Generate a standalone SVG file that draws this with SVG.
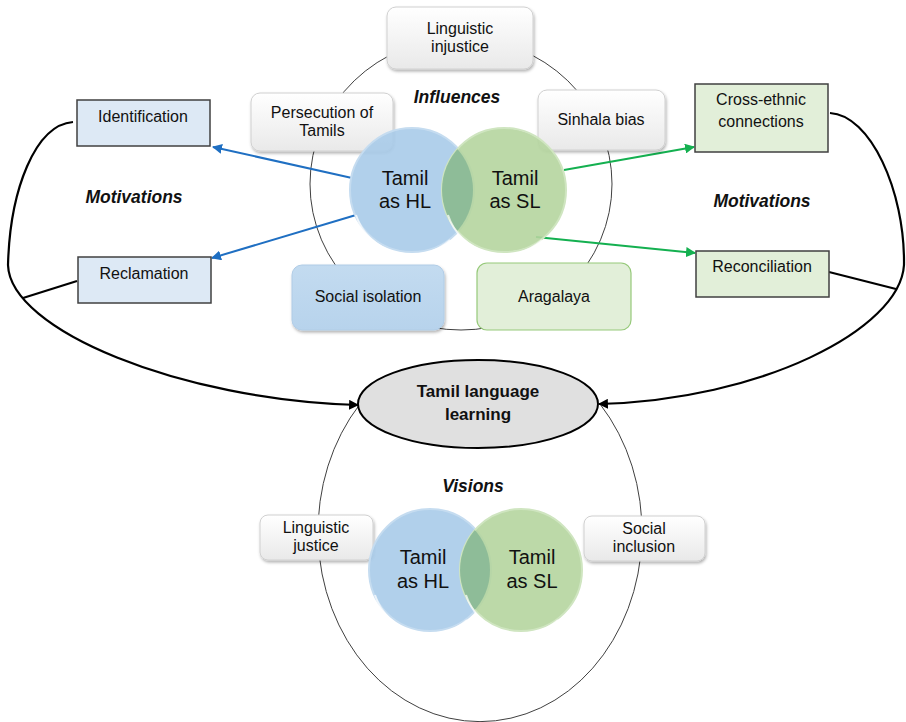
<svg xmlns="http://www.w3.org/2000/svg" width="906" height="722" viewBox="0 0 906 722">
<defs>
<style>
text{font-family:"Liberation Sans",Arial,sans-serif;fill:#111}
.bt{font-size:16px;text-anchor:middle}
.ct{font-size:20px;text-anchor:middle}
.lab{font-size:17.5px;font-weight:bold;font-style:italic;text-anchor:middle}
.thin{fill:none;stroke:#404040;stroke-width:1}
.thick{fill:none;stroke:#000;stroke-width:2.2}
.blue{fill:none;stroke:#1f6fc2;stroke-width:2}
.green{fill:none;stroke:#14b050;stroke-width:2}
.wbox{fill:url(#wg);stroke:#d0d0d0;stroke-width:1;filter:url(#sh)}
.mb{fill:#dde9f5;stroke:#404040;stroke-width:1.5}
.mg{fill:#e2efd9;stroke:#404040;stroke-width:1.5}
.hl{fill:#a9cbe9;fill-opacity:0.9;stroke:#c5dcf0;stroke-width:2}
.sl{fill:#b5d59f;fill-opacity:0.9;stroke:#cfe5c0;stroke-width:2}
.ov{fill:#8cba97;fill-opacity:0.95}
.gloss{fill:none;stroke:#fff;stroke-opacity:0.7;stroke-width:2}
</style>
<linearGradient id="wg" x1="0" y1="0" x2="0" y2="1">
<stop offset="0" stop-color="#ffffff"/><stop offset="1" stop-color="#e9e9e9"/>
</linearGradient>
<linearGradient id="bg" x1="0" y1="0" x2="0" y2="1">
<stop offset="0" stop-color="#c3dbf0"/><stop offset="1" stop-color="#b7d3ec"/>
</linearGradient>
<filter id="sh" x="-10%" y="-10%" width="125%" height="135%">
<feDropShadow dx="1" dy="2" stdDeviation="1.5" flood-color="#000" flood-opacity="0.3"/>
</filter>
<marker id="ab" viewBox="0 0 10 10" refX="9" refY="5" markerWidth="5" markerHeight="5" orient="auto"><path d="M0,0L10,5L0,10z" fill="#1f6fc2"/></marker>
<marker id="ag" viewBox="0 0 10 10" refX="9" refY="5" markerWidth="5" markerHeight="5" orient="auto"><path d="M0,0L10,5L0,10z" fill="#14b050"/></marker>
<marker id="ak" viewBox="0 0 10 10" refX="9" refY="5" markerWidth="4.5" markerHeight="4.5" orient="auto"><path d="M0,0L10,5L0,10z" fill="#000"/></marker>
<clipPath id="c1"><circle cx="504" cy="190" r="62"/></clipPath>
<clipPath id="c2"><circle cx="521" cy="570" r="61"/></clipPath>
</defs>

<g id="rings">
<ellipse class="thin" cx="461" cy="184" rx="151" ry="146"/>
<path class="thin" d="M360,404 A162,190 0 1 0 600,404"/>
</g>

<g id="connectors">
<path class="thick" d="M73,122 C35,125 10,190 8,265 C10,330 180,400 358,405" marker-end="url(#ak)"/>
<path class="thick" d="M77,281 L23,298"/>
<path class="thick" d="M830,113 C870,115 905,190 904,265 C900,330 760,400 599,404" marker-end="url(#ak)"/>
<path class="thick" d="M829,272 L896,289"/>
<path class="blue" d="M352,178 L213,147" marker-end="url(#ab)"/>
<path class="blue" d="M356,215 L212,258" marker-end="url(#ab)"/>
<path class="green" d="M564,170 L694,147" marker-end="url(#ag)"/>
<path class="green" d="M536,237 L695,253" marker-end="url(#ag)"/>
</g>

<g id="linguistic-injustice"><rect class="wbox" x="387" y="7" width="146" height="62" rx="9"/>
<text class="bt" x="460" y="34">Linguistic</text><text class="bt" x="460" y="52">injustice</text></g>
<g id="persecution"><rect class="wbox" x="251" y="93" width="142" height="58" rx="9"/>
<text class="bt" x="322" y="118">Persecution of</text><text class="bt" x="322" y="136">Tamils</text></g>
<g id="sinhala-bias"><rect class="wbox" x="538" y="90" width="127" height="60" rx="9"/>
<text class="bt" x="601" y="125">Sinhala bias</text></g>
<g id="social-isolation"><rect x="292" y="265" width="152" height="65" rx="10" fill="url(#bg)" stroke="#b0cce6" filter="url(#sh)"/>
<text class="bt" x="368" y="302">Social isolation</text></g>
<g id="aragalaya"><rect x="477" y="263" width="154" height="67" rx="10" fill="#e2efd9" stroke="#96c97a" stroke-width="1.2"/>
<text class="bt" x="554" y="302">Aragalaya</text></g>

<g id="venn-top">
<circle class="hl" cx="412" cy="190" r="62"/>
<circle class="sl" cx="504" cy="190" r="62"/>
<circle class="ov" cx="412" cy="190" r="61" clip-path="url(#c1)"/>
<path class="gloss" d="M356,215 A58,58 0 0 0 450,240"/>
<path class="gloss" d="M448,215 A58,58 0 0 0 542,240"/>
<text class="ct" x="405" y="185">Tamil</text><text class="ct" x="405" y="208">as HL</text>
<text class="ct" x="515" y="185">Tamil</text><text class="ct" x="515" y="208">as SL</text>
</g>

<g id="identification"><rect class="mb" x="77" y="100" width="133" height="46"/>
<text class="bt" x="143" y="122">Identification</text></g>
<g id="reclamation"><rect class="mb" x="78" y="257" width="133" height="46"/>
<text class="bt" x="144" y="279">Reclamation</text></g>
<g id="cross-ethnic"><rect class="mg" x="695" y="84" width="133" height="68"/>
<text class="bt" x="761" y="105">Cross-ethnic</text><text class="bt" x="761" y="127">connections</text></g>
<g id="reconciliation"><rect class="mg" x="696" y="251" width="133" height="46"/>
<text class="bt" x="762" y="272">Reconciliation</text></g>

<text class="lab" x="457" y="103">Influences</text>
<text class="lab" x="134" y="203">Motivations</text>
<text class="lab" x="762" y="207">Motivations</text>
<text class="lab" x="473" y="492">Visions</text>

<g id="tamil-language-learning">
<ellipse cx="478" cy="404" rx="120" ry="44" fill="#e0e0e0" stroke="#000" stroke-width="2"/>
<text x="478" y="397" font-size="17" font-weight="bold" text-anchor="middle">Tamil language</text>
<text x="478" y="420" font-size="17" font-weight="bold" text-anchor="middle">learning</text>
</g>

<g id="linguistic-justice"><rect class="wbox" x="260" y="515" width="113" height="45" rx="8"/>
<text class="bt" x="316" y="533">Linguistic</text><text class="bt" x="316" y="551">justice</text></g>
<g id="social-inclusion"><rect class="wbox" x="584" y="516" width="121" height="45" rx="8"/>
<text class="bt" x="644" y="534">Social</text><text class="bt" x="644" y="552">inclusion</text></g>

<g id="venn-bottom">
<circle class="hl" cx="430" cy="570" r="61"/>
<circle class="sl" cx="521" cy="570" r="61"/>
<circle class="ov" cx="430" cy="570" r="60" clip-path="url(#c2)"/>
<path class="gloss" d="M375,595 A57,57 0 0 0 467,620"/>
<path class="gloss" d="M466,595 A57,57 0 0 0 558,620"/>
<text class="ct" x="423" y="564">Tamil</text><text class="ct" x="423" y="588">as HL</text>
<text class="ct" x="532" y="564">Tamil</text><text class="ct" x="532" y="588">as SL</text>
</g>
</svg>
